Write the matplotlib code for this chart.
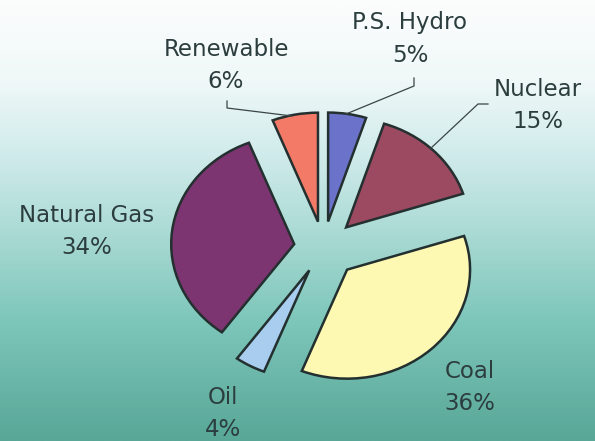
import numpy as np
import matplotlib.pyplot as plt
from matplotlib.colors import LinearSegmentedColormap

# slices clockwise from 12 o'clock
labels = ["P.S. Hydro", "Nuclear", "Coal", "Oil", "Natural Gas", "Renewable"]
shares = [5, 15, 36, 4, 34, 6]
explode = [0.24, 0.26, 0.28, 0.24, 0.24, 0.24]
colors = ["#6a73c9", "#9c4a62", "#fdf8b2", "#a8cdee", "#7c3570", "#f47a68"]

# label text positions in pixels (x, y from top)
label_px = {
    "P.S. Hydro": (410, 39),
    "Nuclear": (538, 105),
    "Coal": (470, 388),
    "Oil": (223, 413),
    "Natural Gas": (87, 231),
    "Renewable": (226, 65),
}
# leader lines in pixels
leaders = {
    "P.S. Hydro": [(414, 78), (414, 86), (346, 114)],
    "Nuclear": [(488, 104), (478, 104), (430, 149)],
    "Renewable": [(227, 101), (227, 108), (292, 116)],
}

W, H = 595, 441
rx, ry = 123, 109          # pie radius in px (scan is squashed vertically)
cx, cy = 323.5, 247.4      # pie centre in px

fig = plt.figure(figsize=(W / 100, H / 100), dpi=100)
ax = fig.add_axes([0, 0, 1, 1])

# background gradient: white at top, teal at bottom
bg = LinearSegmentedColormap.from_list("bg", [
    (0.0, (252/255, 253/255, 253/255)),
    (0.18, (240/255, 248/255, 248/255)),
    (0.34, (210/255, 236/255, 236/255)),
    (0.52, (172/255, 219/255, 213/255)),
    (0.73, (125/255, 198/255, 186/255)),
    (1.0, (88/255, 167/255, 151/255)),
])
grad = np.linspace(0, 1, 256).reshape(-1, 1)
xmin, xmax = -cx / rx, (W - cx) / rx
ymax, ymin = cy / ry, (cy - H) / ry
ax.imshow(grad, cmap=bg, aspect="auto", extent=[xmin, xmax, ymin, ymax], zorder=0)

ax.pie(shares, explode=explode, colors=colors, startangle=90, counterclock=False,
       wedgeprops=dict(edgecolor="#23302f", linewidth=1.8, zorder=2))

ax.set_xlim(xmin, xmax)
ax.set_ylim(ymin, ymax)
ax.set_aspect("auto")
ax.axis("off")

txt = "#2c3d3e"
for name, s in zip(labels, shares):
    px, py = label_px[name]
    ax.text(px / W, 1 - py / H, f"{name}\n{s}%", transform=ax.transAxes,
            ha="center", va="center", fontsize=16.5, color=txt,
            linespacing=1.5, family="DejaVu Sans")

for name, pts in leaders.items():
    xs = [p[0] / W for p in pts]
    ys = [1 - p[1] / H for p in pts]
    ax.plot(xs, ys, color="#3a4546", linewidth=0.9, transform=ax.transAxes, zorder=3)

fig.savefig("out.png", dpi=100)
